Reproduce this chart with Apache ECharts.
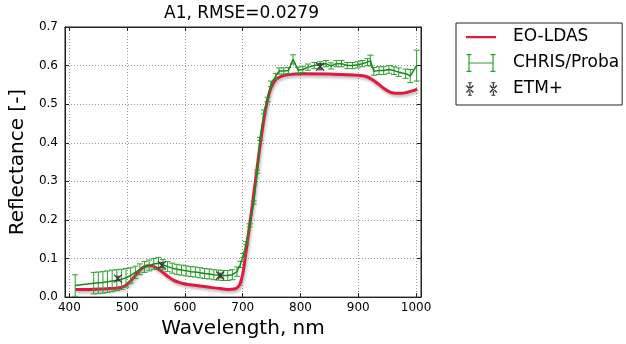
<!DOCTYPE html>
<html><head><meta charset="utf-8">
<script src="https://cdn.jsdelivr.net/npm/echarts@6/dist/echarts.min.js"></script>
<style>html,body{margin:0;padding:0;background:#fff}#c{width:626px;height:344px}</style>
</head><body><div id="c"></div>
<script>
// ---------- data ----------
const eoWavelength = [410, 430, 450, 470, 485, 495, 505, 515, 525, 535, 542, 550, 560, 570, 580, 590, 600, 620, 640, 660, 675, 685, 690, 695, 700, 705, 710, 715, 720, 725, 730, 735, 740, 745, 750, 755, 760, 770, 780, 800, 850, 900, 915, 925, 935, 945, 955, 965, 975, 985, 995, 1002];
const eoReflectance = [0.020, 0.020, 0.021, 0.022, 0.024, 0.028, 0.040, 0.058, 0.074, 0.081, 0.081, 0.076, 0.066, 0.054, 0.044, 0.038, 0.034, 0.030, 0.026, 0.022, 0.020, 0.021, 0.024, 0.033, 0.060, 0.110, 0.165, 0.220, 0.278, 0.336, 0.393, 0.445, 0.490, 0.524, 0.546, 0.559, 0.567, 0.574, 0.577, 0.579, 0.578, 0.575, 0.571, 0.563, 0.552, 0.540, 0.531, 0.528, 0.528, 0.531, 0.535, 0.539];

const chrisWavelength = [410, 442, 450, 458, 466, 474, 482, 490, 498, 506, 514, 522, 530, 538, 546, 554, 562, 570, 578, 586, 594, 602, 610, 618, 626, 634, 642, 650, 658, 666, 674, 682, 690, 696, 701, 706, 712, 719, 725, 730, 737, 743, 749, 757, 763, 771, 779, 787, 796, 804, 813, 824, 834, 844, 853, 862, 871, 881, 890, 899, 907, 916, 921, 927, 936, 944, 953, 962, 970, 982, 990, 1001];
const chrisReflectance = [0.030, 0.036, 0.037, 0.038, 0.040, 0.042, 0.044, 0.046, 0.050, 0.056, 0.064, 0.072, 0.078, 0.082, 0.086, 0.088, 0.084, 0.079, 0.075, 0.072, 0.070, 0.068, 0.066, 0.065, 0.063, 0.061, 0.060, 0.058, 0.057, 0.056, 0.056, 0.058, 0.066, 0.085, 0.108, 0.140, 0.186, 0.245, 0.325, 0.410, 0.480, 0.512, 0.553, 0.572, 0.586, 0.586, 0.587, 0.616, 0.588, 0.590, 0.596, 0.600, 0.602, 0.605, 0.599, 0.605, 0.605, 0.600, 0.600, 0.602, 0.605, 0.609, 0.613, 0.585, 0.587, 0.587, 0.590, 0.587, 0.583, 0.579, 0.573, 0.600];
const chrisError = [0.028, 0.028, 0.028, 0.028, 0.028, 0.028, 0.027, 0.026, 0.024, 0.020, 0.016, 0.014, 0.014, 0.014, 0.014, 0.015, 0.013, 0.013, 0.013, 0.013, 0.013, 0.013, 0.013, 0.013, 0.013, 0.013, 0.013, 0.013, 0.013, 0.013, 0.013, 0.013, 0.012, 0.008, 0.005, 0.004, 0.004, 0.004, 0.004, 0.004, 0.005, 0.006, 0.007, 0.008, 0.008, 0.008, 0.008, 0.012, 0.008, 0.008, 0.008, 0.008, 0.008, 0.008, 0.008, 0.008, 0.008, 0.008, 0.008, 0.008, 0.008, 0.009, 0.014, 0.010, 0.010, 0.010, 0.010, 0.010, 0.011, 0.012, 0.017, 0.040];

const etmWavelength = [484, 560, 661, 834];
const etmReflectance = [0.048, 0.083, 0.056, 0.597];
const etmError = [0.006, 0.007, 0.006, 0.008];

const seriesNames = ['EO-LDAS', 'CHRIS/Proba', 'ETM+'];
const titleText = 'A1, RMSE=0.0279';
const xAxisName = 'Wavelength, nm';
const yAxisName = 'Reflectance [-]';

// ---------- style ----------
const FONT = 'DejaVu Sans';
const RED = '#e3173f';
const GREEN_LINE = '#158c15';
const GREEN_BAR = '#2e9f2e';
const ETM_COL = '#333333';
const GRID = {left: 62, top: 27, width: 359, height: 271};
const X_MIN = 392.3, X_MAX = 1008.6;

const zip = (a, b) => a.map((v, i) => [v, b[i]]);
const errData = (w, r, e) => w.map((v, i) => [v, r[i], r[i] - e[i], r[i] + e[i]]);

function errorBarRenderer(color, cap, withCross) {
  return function (params, api) {
    const x = api.value(0);
    const mid = api.coord([x, api.value(1)]);
    const lo = api.coord([x, api.value(2)]);
    const hi = api.coord([x, api.value(3)]);
    const st = {stroke: color, lineWidth: 1};
    const ch = [
      {type: 'line', shape: {x1: hi[0], y1: hi[1], x2: lo[0], y2: lo[1]}, style: st},
      {type: 'line', shape: {x1: hi[0] - cap, y1: hi[1], x2: hi[0] + cap, y2: hi[1]}, style: st},
      {type: 'line', shape: {x1: lo[0] - cap, y1: lo[1], x2: lo[0] + cap, y2: lo[1]}, style: st}
    ];
    if (withCross) {
      const s = 4;
      const cs = {stroke: ETM_COL, lineWidth: 1.2};
      ch.push({type: 'line', shape: {x1: mid[0] - s, y1: mid[1] - s, x2: mid[0] + s, y2: mid[1] + s}, style: cs});
      ch.push({type: 'line', shape: {x1: mid[0] - s, y1: mid[1] + s, x2: mid[0] + s, y2: mid[1] - s}, style: cs});
    }
    return {type: 'group', children: ch};
  };
}

// legend icon paths (box 42 x 20, symbol drawn in x 0..30)
const corners = 'M0,0L0.01,0L0.01,0.01Z M42,20L41.99,20L41.99,19.99Z ';
const rect = (x0, y0, x1, y1) => `M${x0},${y0}L${x1},${y0}L${x1},${y1}L${x0},${y1}Z `;
const iconEO = 'path://' + corners + rect(0, 9, 30, 11.2);
const iBeam = (cx, top, bot, capW) => rect(cx - 0.6, top, cx + 0.6, bot) + rect(cx - capW, top, cx + capW, top + 1.2) + rect(cx - capW, bot - 1.2, cx + capW, bot);
const iconCHRIS = 'path://' + corners + rect(3, 9.4, 27, 10.6) + iBeam(3, 1, 19, 2.5) + iBeam(27, 1, 19, 2.5);
const cross = (cx, cy, s, t) => `M${cx - s},${cy - s + t}L${cx - s + t},${cy - s}L${cx + s},${cy + s - t}L${cx + s - t},${cy + s}Z M${cx - s},${cy + s - t}L${cx - s + t},${cy + s}L${cx + s},${cy - s + t}L${cx + s - t},${cy - s}Z `;
const iconETM = 'path://' + corners + iBeam(3, 3, 17, 2) + iBeam(27, 3, 17, 2) + cross(3, 10, 4, 1) + cross(27, 10, 4, 1);

const chart = echarts.init(document.getElementById('c'), null, {renderer: 'canvas'});
const axisCommon = {
  type: 'value',
  axisLine: {show: true, onZero: false, lineStyle: {color: '#222', width: 1}},
  axisTick: {show: true, inside: true, length: 4, lineStyle: {color: '#222'}},
};
chart.setOption({
  animation: false,
  backgroundColor: '#fff',
  textStyle: {fontFamily: FONT},
  grid: Object.assign({containLabel: false, show: true, borderColor: '#222', borderWidth: 1}, GRID),
  graphic: [{
    type: 'text', x: GRID.left + GRID.width / 2, y: 14,
    style: {text: titleText, align: 'center', verticalAlign: 'middle', fontFamily: FONT, fontSize: 17, fill: '#000'}
  }],
  legend: {
    orient: 'vertical', left: 456, top: 23,
    padding: [4, 3, 6, 10], itemGap: 6, itemWidth: 42, itemHeight: 20,
    borderColor: '#222', borderWidth: 1, borderRadius: 0,
    textStyle: {fontFamily: FONT, fontSize: 17, color: '#000', lineHeight: 20},
    data: [
      {name: seriesNames[0], icon: iconEO, itemStyle: {color: RED, borderWidth: 0}},
      {name: seriesNames[1], icon: iconCHRIS, itemStyle: {color: GREEN_BAR, borderWidth: 0}},
      {name: seriesNames[2], icon: iconETM, itemStyle: {color: ETM_COL, borderWidth: 0}}
    ]
  },
  xAxis: [
    Object.assign({}, axisCommon, {
      position: 'bottom', min: X_MIN, max: X_MAX, splitNumber: 6,
      name: xAxisName, nameLocation: 'middle', nameGap: 20,
      nameTextStyle: {fontFamily: FONT, fontSize: 20, color: '#000'},
      axisLabel: {fontFamily: FONT, fontSize: 12, color: '#000', margin: 5, showMinLabel: false, showMaxLabel: false,
        formatter: v => (Math.abs(v - Math.round(v / 100) * 100) < 1e-6 ? String(v) : '')},
      splitLine: {show: true, lineStyle: {color: '#999', type: [1, 2], width: 1}}
    }),
    Object.assign({}, axisCommon, {
      position: 'top', min: X_MIN, max: X_MAX, splitNumber: 6,
      axisLabel: {show: false}, splitLine: {show: false}
    })
  ],
  yAxis: [
    Object.assign({}, axisCommon, {
      position: 'left', min: 0, max: 0.7, interval: 0.1,
      name: yAxisName, nameLocation: 'middle', nameGap: 33,
      nameTextStyle: {fontFamily: FONT, fontSize: 20, color: '#000'},
      axisLabel: {fontFamily: FONT, fontSize: 12, color: '#000', margin: 7, formatter: v => v.toFixed(1)},
      splitLine: {show: true, lineStyle: {color: '#999', type: [1, 2], width: 1}}
    }),
    Object.assign({}, axisCommon, {
      position: 'right', min: 0, max: 0.7, interval: 0.1,
      axisLabel: {show: false}, splitLine: {show: false}
    })
  ],
  series: [
    {
      name: seriesNames[0], type: 'line', z: 2,
      data: zip(eoWavelength, eoReflectance), smooth: 0.35, showSymbol: false,
      itemStyle: {color: RED},
      lineStyle: {color: RED, width: 3, shadowColor: 'rgba(0,0,0,0.3)', shadowBlur: 3, shadowOffsetX: 1, shadowOffsetY: 2}
    },
    {
      name: seriesNames[1], type: 'custom', z: 3,
      data: errData(chrisWavelength, chrisReflectance, chrisError),
      encode: {x: 0, y: [1, 2, 3]},
      itemStyle: {color: GREEN_BAR},
      renderItem: errorBarRenderer(GREEN_BAR, 3, false)
    },
    {
      name: seriesNames[1], type: 'line', z: 4,
      data: zip(chrisWavelength, chrisReflectance), showSymbol: false,
      itemStyle: {color: GREEN_BAR},
      lineStyle: {color: GREEN_LINE, width: 1.5}
    },
    {
      name: seriesNames[2], type: 'custom', z: 5,
      data: errData(etmWavelength, etmReflectance, etmError),
      encode: {x: 0, y: [1, 2, 3]},
      itemStyle: {color: ETM_COL},
      renderItem: errorBarRenderer(ETM_COL, 2, true)
    }
  ]
});
</script>
</body></html>
